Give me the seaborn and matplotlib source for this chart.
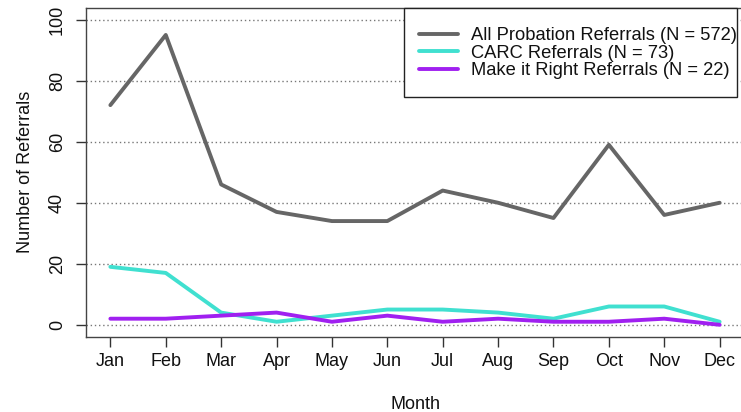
import matplotlib
matplotlib.use("Agg")
import matplotlib.pyplot as plt
from matplotlib.patches import Rectangle
import seaborn as sns
import pandas as pd

months = ["Jan", "Feb", "Mar", "Apr", "May", "Jun", "Jul", "Aug", "Sep", "Oct", "Nov", "Dec"]
all_probation = [72, 95, 46, 37, 34, 34, 44, 40, 35, 59, 36, 40]
carc = [19, 17, 4, 1, 3, 5, 5, 4, 2, 6, 6, 1]
make_it_right = [2, 2, 3, 4, 1, 3, 1, 2, 1, 1, 2, 0]
series_names = ["All Probation Referrals (N = 572)",
                "CARC Referrals (N = 73)",
                "Make it Right Referrals (N = 22)"]
colors = ["#666666", "#40E0D0", "#A020F0"]

rows = []
for name, vals in zip(series_names, [all_probation, carc, make_it_right]):
    for i, v in enumerate(vals):
        rows.append({"idx": i + 1, "value": v, "series": name})
df = pd.DataFrame(rows)

sns.set_style("white")
plt.rcParams["font.family"] = ["Liberation Sans", "DejaVu Sans"]

W, H = 741, 412
fig = plt.figure(figsize=(W / 100, H / 100), dpi=100)
left, right, top, bottom = 86, 744, 7.5, 337
ax = fig.add_axes([left / W, 1 - bottom / H, (right - left) / W, (bottom - top) / H])

for y in range(0, 101, 20):
    ax.axhline(y, color="#777777", linestyle=(0, (1, 2)), linewidth=1.0, zorder=0)

sns.lineplot(data=df, x="idx", y="value", hue="series", palette=colors,
             hue_order=series_names, linewidth=2.8, ax=ax, legend=True)

ax.set_xlim(0.56, 12.44)
ax.set_ylim(-4, 104)
ax.set_xticks(range(1, 13))
ax.set_xticklabels(months)
ax.set_yticks(range(0, 101, 20))
ax.set_yticklabels([str(v) for v in range(0, 101, 20)], rotation=90, va="center")
ax.tick_params(axis="both", which="both", direction="out", length=7.5, width=1,
               color="#333333", labelsize=13, labelcolor="#111111",
               bottom=True, left=True)
ax.tick_params(axis="x", pad=4)
ax.tick_params(axis="y", pad=7)
for s in ax.spines.values():
    s.set_color("#444444")
    s.set_linewidth(1.0)
ax.set_xlabel("Month", fontsize=13, labelpad=19, color="#111111")
ax.set_ylabel("Number of Referrals", fontsize=13, labelpad=11, color="#111111")

handles, labels = ax.get_legend_handles_labels()
leg = ax.legend(handles, labels, loc="upper left", bbox_to_anchor=(419 / W, 1 - 27 / H),
                bbox_transform=fig.transFigure, borderaxespad=0, borderpad=0, fontsize=13.2,
                frameon=False, handlelength=2.1, handletextpad=0.72, labelspacing=0.03,
                title=None)
for t in leg.get_texts():
    t.set_color("#111111")
leg.set_zorder(6)

box = Rectangle((404 / W, 1 - 97 / H), (737 - 404) / W, (97 - 7.5) / H,
                transform=fig.transFigure, fill=True, facecolor="white",
                edgecolor="#222222", linewidth=1.0, zorder=5, clip_on=False)
ax.add_patch(box)

fig.savefig("out.png", dpi=100)
